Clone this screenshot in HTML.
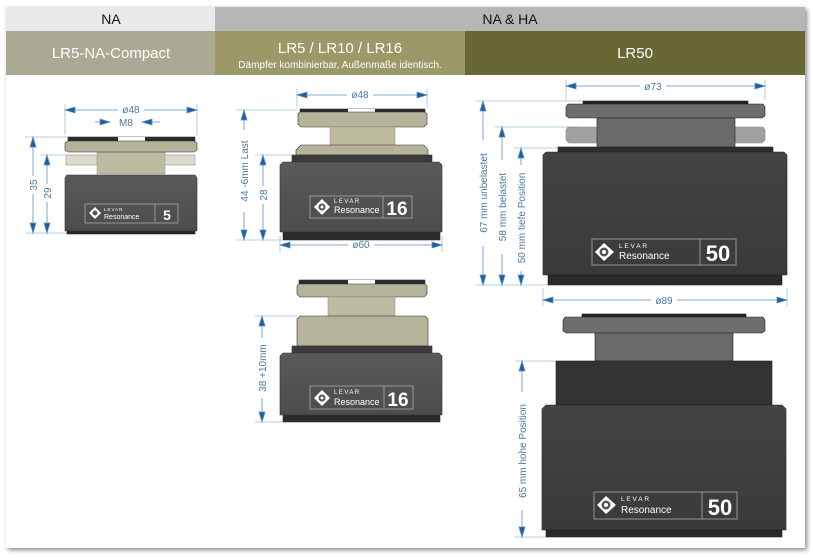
<!DOCTYPE html>
<html><head><meta charset="utf-8"><style>
html,body{margin:0;padding:0;background:#fff;}
svg{display:block;font-family:"Liberation Sans",sans-serif;}
</style></head><body>
<svg width="813" height="558" viewBox="0 0 813 558" xmlns="http://www.w3.org/2000/svg">
<defs>
<filter id="sh" x="-5%" y="-5%" width="110%" height="110%"><feGaussianBlur stdDeviation="2.5"/></filter>
<linearGradient id="body" x1="0" y1="0" x2="0" y2="1"><stop offset="0" stop-color="#5a5a5a"/><stop offset="1" stop-color="#4c4c4c"/></linearGradient>
<linearGradient id="bodyd" x1="0" y1="0" x2="0" y2="1"><stop offset="0" stop-color="#444"/><stop offset="1" stop-color="#3a3a3a"/></linearGradient>
</defs>
<rect x="8" y="9" width="799" height="541" fill="#888" filter="url(#sh)"/>
<rect x="6" y="7" width="799" height="541" fill="#fff"/>
<!-- header -->
<rect x="6" y="7" width="209" height="24" fill="#e9e9e9"/>
<rect x="215" y="7" width="590" height="24" fill="#b6b6b6"/>
<rect x="6" y="31" width="209" height="44" fill="#aaa993"/>
<rect x="215" y="31" width="250" height="44" fill="#9a9967"/>
<rect x="465" y="31" width="340" height="44" fill="#686835"/>
<text x="111" y="24" font-size="14" text-anchor="middle" fill="#111">NA</text>
<text x="510" y="24" font-size="14" text-anchor="middle" fill="#111">NA &amp; HA</text>
<text x="111" y="58" font-size="15" text-anchor="middle" fill="#fff">LR5-NA-Compact</text>
<text x="340" y="53" font-size="15" text-anchor="middle" fill="#fff">LR5 / LR10 / LR16</text>
<text x="340" y="68" font-size="10" text-anchor="middle" fill="#fff">Dämpfer kombinierbar, Außenmaße identisch.</text>
<text x="635" y="58" font-size="15" text-anchor="middle" fill="#fff">LR50</text>

<g stroke="#9ec0dc" stroke-width="0.8">
<!-- extension lines -->
<line x1="65" y1="104" x2="65" y2="135"/><line x1="197" y1="104" x2="197" y2="135"/>
<line x1="25" y1="137" x2="68" y2="137"/><line x1="25" y1="233" x2="68" y2="233"/><line x1="40" y1="155" x2="66" y2="155"/>
<line x1="297" y1="89" x2="297" y2="108"/><line x1="427" y1="89" x2="427" y2="108"/>
<line x1="236" y1="110" x2="298" y2="110"/><line x1="236" y1="240" x2="282" y2="240"/><line x1="255" y1="155" x2="292" y2="155"/>
<line x1="280" y1="236" x2="280" y2="252"/><line x1="442" y1="236" x2="442" y2="252"/>
<line x1="255" y1="316" x2="297" y2="316"/><line x1="255" y1="422" x2="283" y2="422"/>
<line x1="566" y1="80" x2="566" y2="100"/><line x1="765" y1="80" x2="765" y2="100"/>
<line x1="476" y1="101" x2="583" y2="101"/><line x1="476" y1="285" x2="548" y2="285"/>
<line x1="495" y1="127" x2="580" y2="127"/><line x1="514" y1="148" x2="558" y2="148"/>
<line x1="543" y1="288" x2="543" y2="306"/><line x1="787" y1="288" x2="787" y2="306"/>
<line x1="515" y1="361" x2="556" y2="361"/><line x1="515" y1="537" x2="546" y2="537"/>
</g>
<g stroke="#5b8fc0" stroke-width="0.8" fill="#1f5f9e">
<!-- horizontal dims -->
<line x1="65" y1="110" x2="197" y2="110"/><polygon points="65,110 75,107 75,113"/><polygon points="197,110 187,107 187,113"/>
<line x1="95" y1="122" x2="110" y2="122"/><line x1="142" y1="122" x2="160" y2="122"/><polygon points="110,122 100,119 100,125"/><polygon points="142,122 152,119 152,125"/>
<line x1="297" y1="95" x2="427" y2="95"/><polygon points="297,95 307,92 307,98"/><polygon points="427,95 417,92 417,98"/>
<line x1="280" y1="245" x2="442" y2="245"/><polygon points="280,245 290,242 290,248"/><polygon points="442,245 432,242 432,248"/>
<line x1="566" y1="86" x2="765" y2="86"/><polygon points="566,86 576,83 576,89"/><polygon points="765,86 755,83 755,89"/>
<line x1="543" y1="300" x2="787" y2="300"/><polygon points="543,300 553,297 553,303"/><polygon points="787,300 777,297 777,303"/>
<!-- vertical dims -->
<line x1="33" y1="137" x2="33" y2="233"/><polygon points="33,137 30,147 36,147"/><polygon points="33,233 30,223 36,223"/>
<line x1="47" y1="155" x2="47" y2="233"/><polygon points="47,155 44,165 50,165"/><polygon points="47,233 44,223 50,223"/>
<line x1="244" y1="110" x2="244" y2="240"/><polygon points="244,110 241,120 247,120"/><polygon points="244,240 241,230 247,230"/>
<line x1="263" y1="155" x2="263" y2="240"/><polygon points="263,155 260,165 266,165"/><polygon points="263,240 260,230 266,230"/>
<line x1="262" y1="316" x2="262" y2="422"/><polygon points="262,316 259,326 265,326"/><polygon points="262,422 259,412 265,412"/>
<line x1="483" y1="101" x2="483" y2="285"/><polygon points="483,101 480,111 486,111"/><polygon points="483,285 480,275 486,275"/>
<line x1="502" y1="127" x2="502" y2="285"/><polygon points="502,127 499,137 505,137"/><polygon points="502,285 499,275 505,275"/>
<line x1="521" y1="148" x2="521" y2="285"/><polygon points="521,148 518,158 524,158"/><polygon points="521,285 518,275 524,275"/>
<line x1="522" y1="361" x2="522" y2="537"/><polygon points="522,361 519,371 525,371"/><polygon points="522,537 519,527 525,527"/>
</g>
<g font-size="10" fill="#4a78a6" text-anchor="middle">
<rect x="118" y="104" width="26" height="11" fill="#fff"/><text x="131" y="113">ø48</text>
<rect x="113" y="116" width="28" height="11" fill="#fff"/><text x="126" y="126">M8</text>
<rect x="347" y="89" width="26" height="11" fill="#fff"/><text x="360" y="98">ø48</text>
<rect x="348" y="239" width="26" height="11" fill="#fff"/><text x="361" y="248">ø60</text>
<rect x="640" y="80" width="26" height="11" fill="#fff"/><text x="653" y="90">ø73</text>
<rect x="651" y="294" width="26" height="11" fill="#fff"/><text x="664" y="304">ø89</text>
<rect x="27" y="176" width="12" height="18" fill="#fff"/><text transform="translate(37,185) rotate(-90)">35</text>
<rect x="41" y="184" width="12" height="18" fill="#fff"/><text transform="translate(51,193) rotate(-90)">29</text>
<rect x="238" y="130" width="12" height="82" fill="#fff"/><text transform="translate(248,171) rotate(-90)">44 -6mm Last</text>
<rect x="257" y="186" width="12" height="18" fill="#fff"/><text transform="translate(267,195) rotate(-90)">28</text>
<rect x="256" y="338" width="12" height="60" fill="#fff"/><text transform="translate(266,368) rotate(-90)">38  +10mm</text>
<rect x="477" y="140" width="12" height="106" fill="#fff"/><text transform="translate(487,193) rotate(-90)">67 mm unbelastet</text>
<rect x="496" y="160" width="12" height="94" fill="#fff"/><text transform="translate(506,207) rotate(-90)">58 mm belastet</text>
<rect x="515" y="165" width="12" height="106" fill="#fff"/><text transform="translate(525,218) rotate(-90)">50 mm tiefe Position</text>
<rect x="516" y="392" width="12" height="118" fill="#fff"/><text transform="translate(526,451) rotate(-90)">65 mm hohe Position</text>
</g>

<!-- Left device -->
<g stroke="#333" stroke-width="0.6">
<rect x="68" y="137" width="127" height="4" fill="#2a2a2a"/>
<rect x="118" y="137" width="27" height="4" fill="#fff" stroke="none"/>
<rect x="66" y="155" width="129" height="10" fill="#dcdaca" stroke="#999"/>
<rect x="97" y="152" width="68" height="22" fill="#bdbba0" stroke="#999"/>
<polygon points="65,143 68,141 194,141 197,143 197,150 194,152 68,152 65,150" fill="#b5b399"/>
<polygon points="67,175 195,175 197,178 197,231 65,231 65,178" fill="url(#body)"/>
<rect x="67" y="231" width="128" height="3" fill="#222"/>
</g>
<!-- Middle upper -->
<g stroke="#333" stroke-width="0.6">
<rect x="300" y="109" width="125" height="3" fill="#2a2a2a"/>
<rect x="348" y="109" width="27" height="3" fill="#fff" stroke="none"/>
<polygon points="298,114 300,112 425,112 427,114 427,124 424,127 301,127 298,124" fill="#b5b399"/>
<rect x="330" y="127" width="65" height="20" fill="#bdbba0" stroke="#999"/>
<polygon points="301,145 424,145 428,150 428,155 296,155 296,150" fill="#b5b399"/>
<rect x="292" y="155" width="140" height="7" fill="#3a3a3a"/>
<polygon points="283,162 439,162 442,165 442,232 280,232 280,165" fill="url(#body)"/>
<rect x="283" y="232" width="157" height="8" fill="#2a2a2a"/>
</g>
<!-- Middle lower -->
<g stroke="#333" stroke-width="0.6">
<rect x="299" y="280" width="126" height="4" fill="#2a2a2a"/>
<rect x="348" y="280" width="27" height="4" fill="#fff" stroke="none"/>
<polygon points="297,286 299,284 425,284 427,286 427,294 424,297 300,297 297,294" fill="#b5b399"/>
<rect x="328" y="297" width="67" height="19" fill="#bdbba0" stroke="#999"/>
<polygon points="300,316 425,316 428,319 428,346 297,346 297,319" fill="#b5b399"/>
<rect x="292" y="346" width="140" height="7" fill="#3a3a3a"/>
<polygon points="283,353 439,353 442,356 442,415 280,415 280,356" fill="url(#body)"/>
<rect x="283" y="415" width="157" height="7" fill="#2a2a2a"/>
</g>
<!-- Right upper -->
<g stroke="#222" stroke-width="0.6">
<rect x="583" y="101" width="165" height="3" fill="#222"/>
<polygon points="568,104 763,104 765,107 765,116 762,118 569,118 566,116 566,107" fill="#6e6e6e"/>
<polygon points="568,127 763,127 765,130 765,140 762,143 569,143 566,140 566,130" fill="#a0a0a0" stroke="#888"/>
<rect x="597" y="118" width="138" height="33" fill="#6a6a6a"/>
<rect x="558" y="147" width="215" height="5" fill="#2e2e2e"/>
<polygon points="546,152 784,152 787,155 787,275 543,275 543,155" fill="url(#bodyd)"/>
<rect x="548" y="275" width="234" height="10" fill="#2a2a2a"/>
</g>
<!-- Right lower -->
<g stroke="#222" stroke-width="0.6">
<rect x="582" y="314" width="164" height="3" fill="#222"/>
<polygon points="565,317 763,317 765,320 765,331 762,333 566,333 563,331 563,320" fill="#6e6e6e"/>
<rect x="595" y="333" width="138" height="28" fill="#6a6a6a"/>
<rect x="556" y="361" width="216" height="44" fill="#333"/>
<polygon points="546,405 782,405 786,409 786,530 542,530 542,409" fill="url(#bodyd)"/>
<rect x="546" y="530" width="236" height="7" fill="#2a2a2a"/>
</g>

<!-- labels -->
<g fill="none" stroke="#aaa" stroke-width="0.8">
<rect x="85" y="204" width="93" height="19"/><line x1="155" y1="204" x2="155" y2="223"/>
<rect x="310" y="196" width="102" height="22"/><line x1="383" y1="196" x2="383" y2="218"/>
<rect x="310" y="386" width="103" height="23"/><line x1="384" y1="386" x2="384" y2="409"/>
<rect x="592" y="239" width="144" height="26"/><line x1="700" y1="239" x2="700" y2="265"/>
<rect x="594" y="492" width="143" height="27"/><line x1="702" y1="492" x2="702" y2="519"/>
</g>
<g fill="#fff">
<polygon points="95,207 101,213 95,219 89,213"/><circle cx="95" cy="213" r="2.5" fill="#555"/>
<text x="104" y="211" font-size="4.5" letter-spacing="1">LEVAR</text><text x="104" y="219" font-size="7">Resonance</text>
<text x="167" y="220" font-size="14" font-weight="bold" text-anchor="middle">5</text>
<polygon points="322,199 330,207 322,215 314,207"/><circle cx="322" cy="207" r="3.5" fill="#555"/><circle cx="322" cy="207" r="1.5"/>
<text x="334" y="203" font-size="6" letter-spacing="1.5">LEVAR</text><text x="334" y="213" font-size="9">Resonance</text>
<text x="397" y="215" font-size="19" font-weight="bold" text-anchor="middle">16</text>
<polygon points="322,390 330,398 322,406 314,398"/><circle cx="322" cy="398" r="3.5" fill="#555"/><circle cx="322" cy="398" r="1.5"/>
<text x="334" y="394" font-size="6" letter-spacing="1.5">LEVAR</text><text x="334" y="405" font-size="9">Resonance</text>
<text x="398" y="406" font-size="19" font-weight="bold" text-anchor="middle">16</text>
<polygon points="604,243 614,252 604,261 595,252"/><circle cx="604" cy="252" r="4.5" fill="#555"/><circle cx="604" cy="252" r="2"/>
<text x="619" y="248" font-size="6.5" letter-spacing="1.8">LEVAR</text><text x="619" y="259" font-size="10">Resonance</text>
<text x="718" y="261" font-size="22" font-weight="bold" text-anchor="middle">50</text>
<polygon points="606,496 616,505 606,514 597,505"/><circle cx="606" cy="505" r="4.5" fill="#555"/><circle cx="606" cy="505" r="2"/>
<text x="621" y="501" font-size="6.5" letter-spacing="1.8">LEVAR</text><text x="621" y="513" font-size="10">Resonance</text>
<text x="720" y="515" font-size="22" font-weight="bold" text-anchor="middle">50</text>
</g>
</svg>
</body></html>
